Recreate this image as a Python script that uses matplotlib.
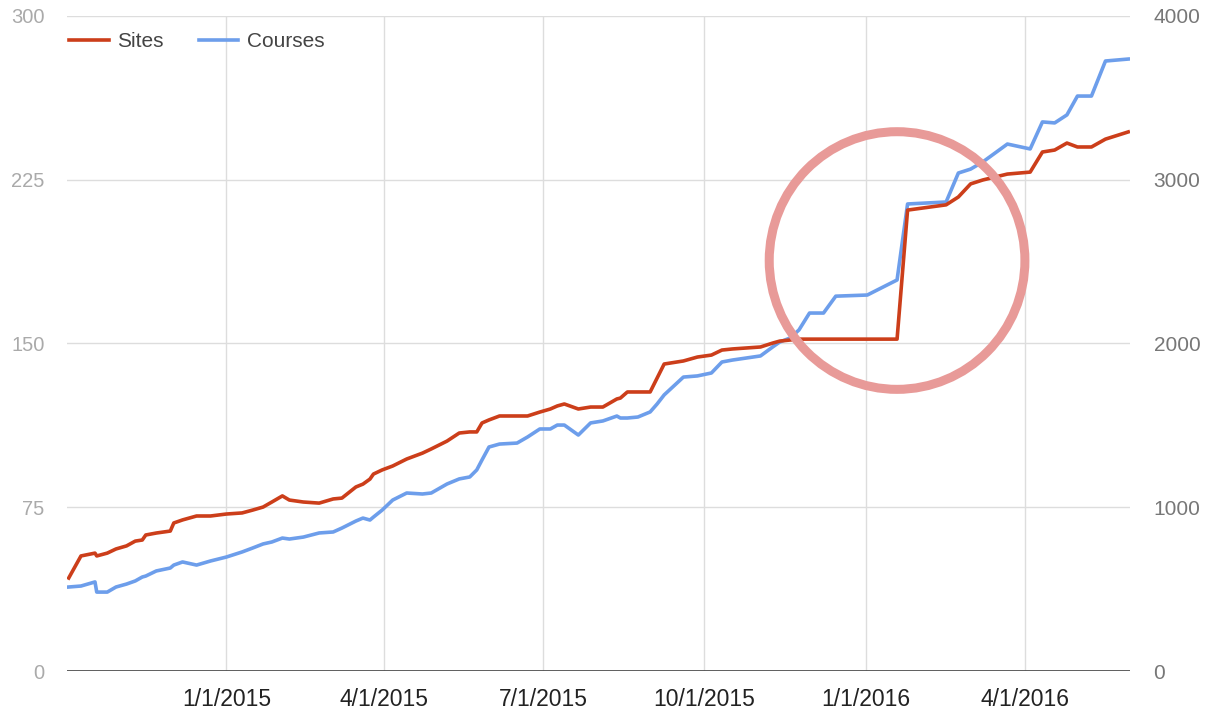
import matplotlib.pyplot as plt
import matplotlib.dates as mdates
import pandas as pd
from matplotlib.patches import Ellipse

plt.rcParams["font.family"] = ["Liberation Sans", "DejaVu Sans"]

dates = [
    "2014-10-03", "2014-10-10", "2014-10-18", "2014-10-19", "2014-10-25", "2014-10-30",
    "2014-11-05", "2014-11-10", "2014-11-14", "2014-11-16", "2014-11-22", "2014-11-30",
    "2014-12-02", "2014-12-07", "2014-12-15", "2014-12-23", "2015-01-01", "2015-01-10",
    "2015-01-16", "2015-01-22", "2015-01-27", "2015-02-02", "2015-02-06", "2015-02-14",
    "2015-02-23", "2015-03-03", "2015-03-08", "2015-03-16", "2015-03-20", "2015-03-24",
    "2015-03-26", "2015-03-31", "2015-04-06", "2015-04-14", "2015-04-23", "2015-04-28",
    "2015-05-07", "2015-05-14", "2015-05-20", "2015-05-24", "2015-05-27", "2015-05-31",
    "2015-06-06", "2015-06-16", "2015-06-22", "2015-06-29", "2015-07-05", "2015-07-09",
    "2015-07-13", "2015-07-21", "2015-07-28", "2015-08-04", "2015-08-12", "2015-08-14",
    "2015-08-18", "2015-08-24", "2015-08-31", "2015-09-04", "2015-09-08", "2015-09-19",
    "2015-09-27", "2015-10-05", "2015-10-11", "2015-10-17", "2015-11-02", "2015-11-09",
    "2015-11-13", "2015-11-19", "2015-11-24", "2015-11-30", "2015-12-08", "2015-12-15",
    "2016-01-02", "2016-01-19", "2016-01-25", "2016-02-16", "2016-02-23", "2016-03-01",
    "2016-03-08", "2016-03-22", "2016-04-04", "2016-04-11", "2016-04-18", "2016-04-25",
    "2016-05-01", "2016-05-09", "2016-05-17", "2016-05-30",
]

sites = [
    42.6, 52.7, 54.0, 52.7, 54.0, 55.9,
    57.3, 59.5, 60.0, 62.3, 63.2, 64.1,
    67.8, 69.2, 71.0, 71.0, 71.9, 72.4,
    73.7, 75.1, 77.4, 80.2, 78.3, 77.4,
    76.9, 78.8, 79.2, 84.3, 85.6, 87.9,
    90.2, 92.1, 93.9, 97.1, 99.8, 101.7,
    105.3, 109.0, 109.5, 109.5, 113.6, 115.0,
    116.8, 116.8, 116.8, 118.6, 120.0, 121.4,
    122.3, 120.0, 120.9, 120.9, 124.6, 125.0,
    127.8, 127.8, 127.8, 134.2, 140.6, 142.0,
    143.8, 144.7, 147.0, 147.5, 148.4, 150.2,
    151.1, 151.6, 152.0, 152.0, 152.0, 152.0,
    152.0, 152.0, 211.1, 213.5, 217.1, 223.1,
    224.9, 227.6, 228.5, 237.7, 238.6, 241.8,
    240.0, 240.0, 243.6, 246.9,
]

courses = [
    513, 519, 544, 482, 482, 513,
    531, 550, 574, 580, 611, 629,
    647, 666, 647, 672, 696, 727,
    751, 776, 788, 812, 806, 818,
    843, 849, 873, 916, 934, 922,
    940, 983, 1044, 1087, 1081, 1087,
    1142, 1173, 1185, 1228, 1289, 1368,
    1386, 1392, 1429, 1478, 1478, 1502,
    1502, 1441, 1515, 1527, 1557, 1545,
    1545, 1551, 1582, 1631, 1686, 1795,
    1802, 1820, 1887, 1899, 1924, 1979,
    2009, 2034, 2083, 2186, 2186, 2289,
    2296, 2388, 2852, 2864, 3041, 3065,
    3109, 3218, 3188, 3353, 3347, 3396,
    3511, 3511, 3725, 3737,
]

quarter_ticks = ["2015-01-01", "2015-04-01", "2015-07-01", "2015-10-01", "2016-01-01", "2016-04-01"]
sites_ticks = [0, 75, 150, 225, 300]
courses_ticks = [0, 1000, 2000, 3000, 4000]

x = pd.to_datetime(dates)
qt = pd.to_datetime(quarter_ticks)

fig = plt.figure(figsize=(12.11, 7.10), dpi=100)
ax = fig.add_axes([0.0553, 0.0549, 0.8778, 0.9226])
ax2 = ax.twinx()

# sites axis on top, courses axis (with the grid) underneath
ax.set_zorder(ax2.get_zorder() + 1)
ax.patch.set_visible(False)

ax2.plot(x, courses, color="#6d9eeb", linewidth=2.6, label="Courses", solid_joinstyle="round")
ax.plot(x, sites, color="#cc3e1a", linewidth=2.6, label="Sites", solid_joinstyle="round")

ax.set_xlim(pd.Timestamp("2014-10-02"), pd.Timestamp("2016-05-31"))
ax.set_ylim(0, 300)
ax2.set_ylim(0, 4000)

ax.set_yticks(sites_ticks)
ax2.set_yticks(courses_ticks)
ax.set_xticks(qt)
ax.xaxis.set_major_formatter(mdates.DateFormatter("%-m/%-d/%Y"))

# grid lives on the lower axes so the lines sit on top of it
ax2.grid(True, axis="y", color="#dddddd", linewidth=1.0)
for d in qt:
    ax2.axvline(d, color="#dddddd", linewidth=1.0, zorder=0.5)
ax2.set_axisbelow(True)
ax2.axhline(0, color="#444444", linewidth=1.2, zorder=1)

for a in (ax, ax2):
    for s in a.spines.values():
        s.set_visible(False)
ax.tick_params(axis="y", length=0, pad=16, labelsize=14.5, labelcolor="#aaaaaa")
ax2.tick_params(axis="y", length=0, pad=17, labelsize=15, labelcolor="#777777")
ax.tick_params(axis="x", length=0, pad=12, labelsize=16.5, labelcolor="#222222")

# the highlight ring around the jump
ring = Ellipse((pd.Timestamp("2016-01-19"), 188), width=146, height=118,
               fill=False, edgecolor="#e89a98", linewidth=6.5, zorder=5)
ax.add_patch(ring)

h1, l1 = ax.get_legend_handles_labels()
h2, l2 = ax2.get_legend_handles_labels()
leg = ax.legend(h1 + h2, l1 + l2, loc="upper left", ncol=2, frameon=False,
                fontsize=15, handlelength=1.9, handletextpad=0.4, columnspacing=1.7,
                bbox_to_anchor=(-0.006, 0.988), borderaxespad=0)
for t in leg.get_texts():
    t.set_color("#444444")

plt.savefig("out.png", dpi=100)
plt.close()
